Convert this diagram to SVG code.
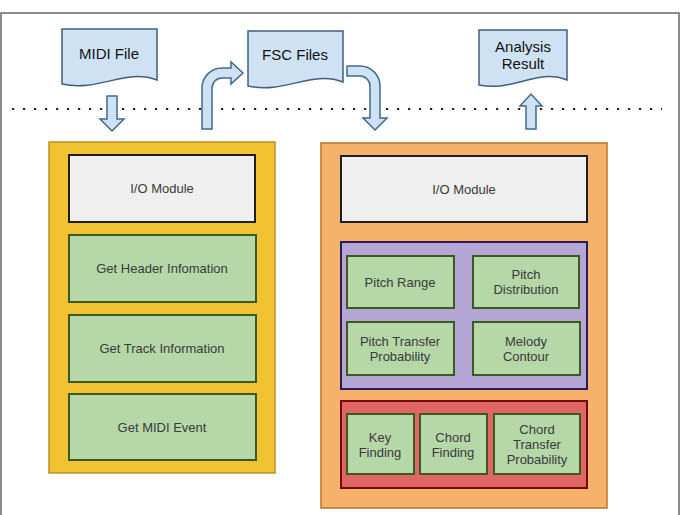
<svg xmlns="http://www.w3.org/2000/svg" width="681" height="515" viewBox="0 0 681 515">
<style>
text{font-family:"Liberation Sans",Arial,sans-serif;fill:#3a3a3a;text-anchor:middle;dominant-baseline:central}
.doc{fill:#cfe2f3;stroke:#3f5f80;stroke-width:1.5}
.doct{font-size:15px;fill:#111}
.arr{fill:#cfe2f3;stroke:#3f6a8f;stroke-width:1.5}
.io{fill:#efefef;stroke:#1f1f1f;stroke-width:2}
.gr{fill:#b6d7a8;stroke:#3d5a1e;stroke-width:2}
.t{font-size:13px}
</style>
<rect x="1" y="13" width="678" height="520" fill="#ffffff" stroke="#666" stroke-width="1.5"/>
<line x1="12" y1="109" x2="662" y2="109" stroke="#222" stroke-width="2.2" stroke-dasharray="2.2 8.8"/>

<g id="midi-file">
<path class="doc" d="M62 29 H157 V80 C125 68 100 92 62 84 Z"/>
<text class="doct" x="109" y="53">MIDI File</text>
</g>
<g id="fsc-files">
<path class="doc" d="M248 31 H343 V82 C311 70 286 94 248 86 Z"/>
<text class="doct" x="295" y="54">FSC Files</text>
</g>
<g id="analysis-result">
<path class="doc" d="M479 30 H567 V80 C537 68 514 92 479 85 Z"/>
<text class="doct" x="523" y="46">Analysis</text>
<text class="doct" x="523" y="63">Result</text>
</g>

<g id="connectors">
<path class="arr" d="M107 96 H117 V119 H124 L112 131 L100 119 H107 Z"/>
<path class="arr" d="M202 129 V88 A20 20 0 0 1 222 68 H231 V62 L243 73 L231 84 V78 H222 A10 10 0 0 0 212 88 V129 Z"/>
<path class="arr" d="M347 66 H360 A20 20 0 0 1 380 86 V118 H387 L375 130 L363 118 H370 V86 A10 10 0 0 0 360 76 H347 Z"/>
<path class="arr" d="M526 129 V106 H520 L531 94 L542 106 H536 V129 Z"/>
</g>

<g id="left-panel">
<rect x="49" y="142" width="226" height="331" fill="#f1c232" stroke="#b89223" stroke-width="1.5"/>
<g id="left-io"><rect class="io" x="69" y="155" width="186" height="67"/><text class="t" x="162" y="188">I/O Module</text></g>
<g id="get-header"><rect class="gr" x="69" y="235" width="187" height="67"/><text class="t" x="162" y="268">Get Header Infomation</text></g>
<g id="get-track"><rect class="gr" x="69" y="315" width="187" height="67"/><text class="t" x="162" y="348">Get Track Information</text></g>
<g id="get-midi-event"><rect class="gr" x="69" y="394" width="187" height="66"/><text class="t" x="162" y="427">Get MIDI Event</text></g>
</g>

<g id="right-panel">
<rect x="321" y="143" width="286" height="365" fill="#f6b26b" stroke="#b8742c" stroke-width="1.5"/>
<g id="right-io"><rect class="io" x="341" y="156" width="246" height="66"/><text class="t" x="464" y="189">I/O Module</text></g>
<g id="melody-group"><rect x="341" y="242" width="246" height="147" fill="#b4a7d6" stroke="#2b1a5a" stroke-width="2"/></g>
<g id="pitch-range"><rect class="gr" x="347" y="256" width="107" height="52"/><text class="t" x="400" y="282">Pitch Range</text></g>
<g id="pitch-distribution"><rect class="gr" x="473" y="256" width="106" height="52"/><text class="t" x="526" y="274">Pitch</text><text class="t" x="526" y="289">Distribution</text></g>
<g id="pitch-transfer"><rect class="gr" x="347" y="322" width="107" height="53"/><text class="t" x="400" y="341">Pitch Transfer</text><text class="t" x="400" y="356">Probability</text></g>
<g id="melody-contour"><rect class="gr" x="473" y="322" width="107" height="53"/><text class="t" x="526" y="341">Melody</text><text class="t" x="526" y="356">Contour</text></g>
<g id="chord-group"><rect x="341" y="401" width="246" height="87" fill="#e06666" stroke="#6b0d0d" stroke-width="2"/></g>
<g id="key-finding"><rect class="gr" x="347" y="414" width="67" height="60"/><text class="t" x="380" y="437">Key</text><text class="t" x="380" y="452">Finding</text></g>
<g id="chord-finding"><rect class="gr" x="420" y="414" width="67" height="60"/><text class="t" x="453" y="437">Chord</text><text class="t" x="453" y="452">Finding</text></g>
<g id="chord-transfer"><rect class="gr" x="494" y="414" width="86" height="60"/><text class="t" x="537" y="429">Chord</text><text class="t" x="537" y="444">Transfer</text><text class="t" x="537" y="459">Probability</text></g>
</g>
</svg>
